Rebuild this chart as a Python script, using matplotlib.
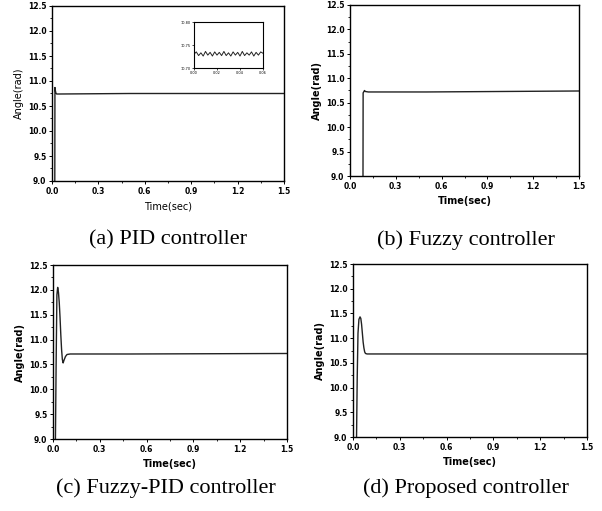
import matplotlib
matplotlib.use("Agg")
import matplotlib.pyplot as plt
from matplotlib.ticker import MultipleLocator

# response curves
t_pid = [0.0, 0.018, 0.019, 0.021, 0.025, 0.03, 0.05, 0.5, 1.5]
y_pid = [8.8, 8.8, 10.87, 10.82, 10.76, 10.74, 10.74, 10.75, 10.75]

# zoomed inset of the PID response (small ripple)
t_zoom = [0.0, 0.002, 0.004, 0.006, 0.008, 0.010, 0.012, 0.014, 0.016, 0.018, 0.020,
          0.022, 0.024, 0.026, 0.028, 0.030, 0.032, 0.034, 0.036, 0.038, 0.040,
          0.042, 0.044, 0.046, 0.048, 0.050, 0.052, 0.054, 0.056, 0.058, 0.060]
y_zoom = [10.730, 10.735, 10.727, 10.733, 10.726, 10.736, 10.728, 10.734, 10.726, 10.735, 10.728,
          10.734, 10.727, 10.736, 10.727, 10.733, 10.726, 10.735, 10.728, 10.734, 10.726,
          10.736, 10.727, 10.733, 10.728, 10.735, 10.726, 10.734, 10.728, 10.735, 10.732]

t_fuzzy = [0.0, 0.085, 0.086, 0.095, 0.10, 0.12, 0.5, 1.5]
y_fuzzy = [8.8, 8.8, 10.70, 10.75, 10.73, 10.72, 10.72, 10.74]

t_fpid = [0.0, 0.015, 0.020, 0.025, 0.030, 0.035, 0.040, 0.045, 0.050, 0.055, 0.060,
          0.065, 0.070, 0.080, 0.090, 0.110, 0.5, 1.5]
y_fpid = [8.8, 8.8, 10.5, 11.9, 12.05, 11.95, 11.75, 11.45, 11.10, 10.80, 10.60,
          10.53, 10.58, 10.66, 10.70, 10.71, 10.71, 10.72]

t_prop = [0.0, 0.022, 0.027, 0.032, 0.038, 0.045, 0.050, 0.055, 0.060, 0.065, 0.070,
          0.075, 0.080, 0.090, 0.10, 0.5, 1.5]
y_prop = [8.8, 8.8, 10.2, 11.1, 11.38, 11.43, 11.40, 11.28, 11.10, 10.92, 10.80,
          10.72, 10.69, 10.68, 10.68, 10.68, 10.68]

captions = ["(a) PID controller", "(b) Fuzzy controller",
            "(c) Fuzzy-PID controller", "(d) Proposed controller"]
xticks = [0.0, 0.3, 0.6, 0.9, 1.2, 1.5]
yticks = [9.0, 9.5, 10.0, 10.5, 11.0, 11.5, 12.0, 12.5]

W, H = 602, 511
fig = plt.figure(figsize=(W / 100, H / 100), dpi=100)


def box(x0, y0, x1, y1):
    return [x0 / W, 1 - y1 / H, (x1 - x0) / W, (y1 - y0) / H]


boxes = [box(52, 6, 284, 181), box(350, 5, 579, 176),
         box(53, 265, 287, 439), box(353, 264, 587, 437)]
curves = [(t_pid, y_pid), (t_fuzzy, y_fuzzy), (t_fpid, y_fpid), (t_prop, y_prop)]
cap_pos = [(168, 240), (466, 240), (166, 488), (466, 488)]

for i in range(4):
    ax = fig.add_axes(boxes[i])
    ax.plot(curves[i][0], curves[i][1], color="#222222", lw=1.0)
    ax.set_xlim(0, 1.5)
    ax.set_ylim(9.0, 12.5)
    ax.set_xticks(xticks)
    ax.set_yticks(yticks)
    ax.xaxis.set_minor_locator(MultipleLocator(0.15))
    ax.yaxis.set_minor_locator(MultipleLocator(0.25))
    ax.tick_params(which="major", direction="out", length=2.5, width=0.7,
                   labelsize=5.5, pad=1.5)
    ax.tick_params(which="minor", direction="out", length=1.5, width=0.6)
    for lab in ax.get_xticklabels() + ax.get_yticklabels():
        lab.set_fontweight("bold")
    for s in ax.spines.values():
        s.set_linewidth(1.0)
    wt = "normal" if i == 0 else "bold"
    ax.set_xlabel("Time(sec)", fontsize=7, fontweight=wt, labelpad=4)
    ax.set_ylabel("Angle(rad)", fontsize=7, fontweight=wt, labelpad=3)
    fig.text(cap_pos[i][0] / W, 1 - cap_pos[i][1] / H, captions[i],
             family="Liberation Serif", fontsize=16, ha="center", va="center")

# inset in panel (a)
axi = fig.add_axes(box(194, 22, 263, 68))
axi.plot(t_zoom, y_zoom, color="#222222", lw=0.7)
axi.set_xlim(0, 0.06)
axi.set_ylim(10.70, 10.80)
axi.set_xticks([0.0, 0.02, 0.04, 0.06])
axi.set_xticklabels(["0.00", "0.02", "0.04", "0.06"])
axi.set_yticks([10.70, 10.75, 10.80])
axi.set_yticklabels(["10.70", "10.75", "10.80"])
axi.tick_params(direction="out", length=1.5, width=0.5, labelsize=2.5, pad=0.8)
for s in axi.spines.values():
    s.set_linewidth(0.8)

fig.savefig("out.png", dpi=100)
